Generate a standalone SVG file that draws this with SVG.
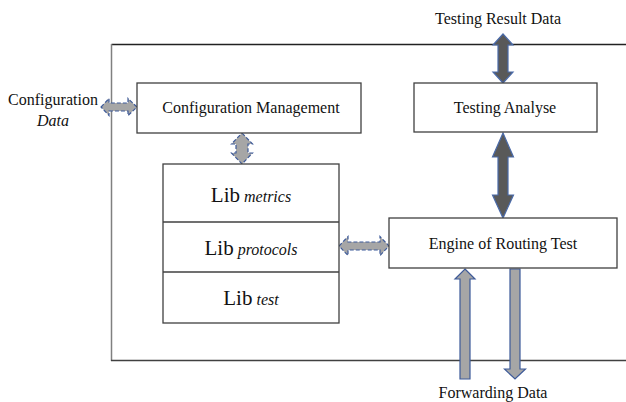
<svg xmlns="http://www.w3.org/2000/svg" width="626" height="402" viewBox="0 0 626 402">
  <style>
    .box { fill: #ffffff; stroke: #404040; stroke-width: 1.3; }
    .t { font-family: "Liberation Serif", "DejaVu Serif", serif; font-size: 16px; fill: #111111; }
    .big { font-size: 21px; }
    .it { font-style: italic; }
    .dark { fill: #595959; stroke: #4a6aa8; stroke-width: 1.2; }
    .light { fill: #a6a6a6; stroke: #3d5a99; stroke-width: 1.2; }
    .dash { fill: #a6a6a6; stroke: #3d5a99; stroke-width: 1.2; stroke-dasharray: 4 2; }
  </style>

  <!-- system boundary frame (open on the right) -->
  <g id="frame" fill="none">
    <line x1="111.5" y1="44.5" x2="626" y2="44.5" stroke="#222222" stroke-width="1.3"/>
    <line x1="111.5" y1="44" x2="111.5" y2="361" stroke="#808080" stroke-width="1.5"/>
    <line x1="111" y1="360.5" x2="626" y2="360.5" stroke="#404040" stroke-width="1.5"/>
  </g>

  <g id="connectors">
    <!-- Configuration Data <-> Configuration Management -->
    <path class="dash" d="M101,107 L109,98.5 L109,103 L128,103 L128,98.5 L137,107 L128,115.5 L128,111 L109,111 L109,115.5 Z"/>
    <!-- Configuration Management <-> Lib stack -->
    <path class="dash" d="M242,133 L252.5,144 L248,144 L248,153 L252.5,153 L242,164 L231.5,153 L236,153 L236,144 L231.5,144 Z"/>
    <!-- Lib protocols <-> Engine of Routing Test -->
    <path class="dash" d="M339,246 L348,236.5 L348,242 L380,242 L380,236.5 L389,246 L380,255.5 L380,250 L348,250 L348,255.5 Z"/>
    <!-- Testing Result Data <-> Testing Analyse -->
    <path class="dark" d="M503,34 L513,45 L508,45 L508,72 L513,72 L503,83 L493,72 L498,72 L498,45 L493,45 Z"/>
    <!-- Testing Analyse <-> Engine of Routing Test -->
    <path class="dark" d="M503,133 L513.5,157 L508,157 L508,195 L513.5,195 L503,218 L492.5,195 L498,195 L498,157 L492.5,157 Z"/>
    <!-- Forwarding Data in (up) -->
    <path class="light" d="M465,269 L475,279 L470,279 L470,379 L460,379 L460,279 L455,279 Z"/>
    <!-- Forwarding Data out (down) -->
    <path class="light" d="M510,269 L520,269 L520,369 L525.5,369 L515,379 L504.5,369 L510,369 Z"/>
  </g>

  <g id="config-data-label">
    <text class="t" x="53" y="105" text-anchor="middle">Configuration</text>
    <text class="t it" x="53" y="126" text-anchor="middle">Data</text>
  </g>

  <g id="testing-result-label">
    <text class="t" x="498" y="24" text-anchor="middle">Testing Result Data</text>
  </g>

  <g id="forwarding-label">
    <text class="t" x="493" y="398" text-anchor="middle">Forwarding Data</text>
  </g>

  <g id="config-management">
    <rect class="box" x="137" y="83" width="224" height="50"/>
    <text class="t" x="251" y="113" text-anchor="middle">Configuration Management</text>
  </g>

  <g id="testing-analyse">
    <rect class="box" x="414" y="83" width="183" height="49"/>
    <text class="t" x="505" y="113" text-anchor="middle">Testing Analyse</text>
  </g>

  <g id="lib-stack">
    <rect class="box" x="163" y="164" width="176" height="159"/>
    <line x1="163" y1="222" x2="339" y2="222" stroke="#404040" stroke-width="1.3"/>
    <line x1="163" y1="272" x2="339" y2="272" stroke="#404040" stroke-width="1.3"/>
    <text class="t" x="251" y="202" text-anchor="middle"><tspan class="big">Lib</tspan> <tspan class="it">metrics</tspan></text>
    <text class="t" x="251" y="255" text-anchor="middle"><tspan class="big">Lib</tspan> <tspan class="it">protocols</tspan></text>
    <text class="t" x="251" y="305" text-anchor="middle"><tspan class="big">Lib</tspan> <tspan class="it">test</tspan></text>
  </g>

  <g id="engine">
    <rect class="box" x="389" y="218" width="228" height="50"/>
    <text class="t" x="503" y="249" text-anchor="middle">Engine of Routing Test</text>
  </g>
</svg>
